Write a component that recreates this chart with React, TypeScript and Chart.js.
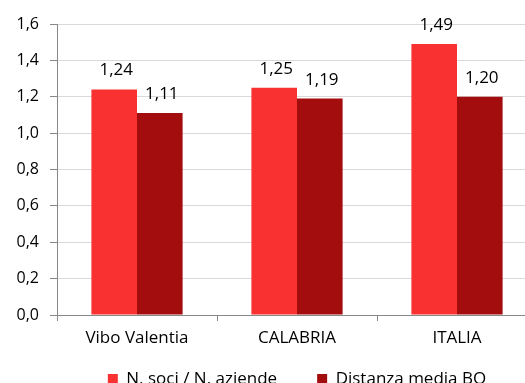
import React, { useEffect, useRef } from "react";
import { Chart, registerables } from "chart.js";

Chart.register(...registerables);

const categories = ["Vibo Valentia", "CALABRIA", "ITALIA"];
const seriesNames = ["N. soci / N. aziende", "Distanza media BO"];
const sociAziende = [1.24, 1.25, 1.49];
const distanzaMedia = [1.11, 1.19, 1.2];
const yMin = 0;
const yMax = 1.6;
const yStep = 0.2;

const FONT = "'Open Sans', 'Noto Sans', sans-serif";
const fmt = (v: number, d: number) => v.toFixed(d).replace(".", ",");

const labelPlugin = {
  id: "valueLabels",
  afterDatasetsDraw(chart: any) {
    const ctx = chart.ctx;
    ctx.save();
    ctx.font = `17px ${FONT}`;
    ctx.fillStyle = "#000";
    ctx.textAlign = "center";
    ctx.textBaseline = "alphabetic";
    chart.data.datasets.forEach((ds: any, di: number) => {
      const meta = chart.getDatasetMeta(di);
      meta.data.forEach((el: any, i: number) => {
        ctx.fillText(fmt(ds.data[i], 2), el.x + 2, el.y - 14);
      });
    });
    ctx.restore();
  },
};

const legendShift = {
  id: "legendShift",
  afterLayout(chart: any) {
    const lg = chart.legend;
    if (lg) {
      lg.top -= 24.5;
      lg.bottom -= 24.5;
    }
  },
};

export default function App() {
  const ref = useRef<HTMLCanvasElement>(null);
  useEffect(() => {
    if (!ref.current) return;
    const chart = new Chart(ref.current, {
      type: "bar",
      data: {
        labels: categories,
        datasets: [
          {
            label: seriesNames[0],
            data: sociAziende,
            backgroundColor: "#FA3131",
            barPercentage: 1,
            categoryPercentage: 0.57,
          },
          {
            label: seriesNames[1],
            data: distanzaMedia,
            backgroundColor: "#A30D0D",
            barPercentage: 1,
            categoryPercentage: 0.57,
          },
        ],
      },
      options: {
        responsive: false,
        animation: false,
        layout: { padding: { top: 24, left: 0, right: 49, bottom: 3 } },
        plugins: {
          legend: {
            position: "bottom",
            fullSize: false,
            labels: {
              boxWidth: 10,
              boxHeight: 10,
              padding: 40,
              color: "#000",
              font: { family: FONT, size: 17 },
            },
          },
          tooltip: { enabled: false },
        },
        scales: {
          x: {
            grid: {
              display: true,
              drawOnChartArea: false,
              offset: true,
              tickLength: 6,
              tickColor: "#888",
            },
            border: { color: "#888", width: 1 },
            ticks: { color: "#000", padding: 7, font: { family: FONT, size: 17 } },
            afterFit: (s: any) => {
              s.height = 40;
            },
          },
          y: {
            min: yMin,
            max: yMax,
            grid: {
              color: "#d9d9d9",
              tickColor: "#888",
              tickLength: 7,
            },
            border: { color: "#888", width: 1 },
            ticks: {
              stepSize: yStep,
              color: "#000",
              padding: 11,
              font: { family: FONT, size: 16 },
              callback: (v: any) => fmt(Number(v), 1),
            },
            afterFit: (s: any) => {
              s.width = 57;
            },
          },
        },
      },
      plugins: [labelPlugin, legendShift],
    });
    return () => chart.destroy();
  }, []);
  return (
    <div style={{ position: "fixed", left: 0, top: 0, width: 525, height: 383, overflow: "hidden", background: "#fff" }}>
      <canvas ref={ref} width={586} height={425} style={{ width: 586, height: 425, display: "block" }} />
    </div>
  );
}
